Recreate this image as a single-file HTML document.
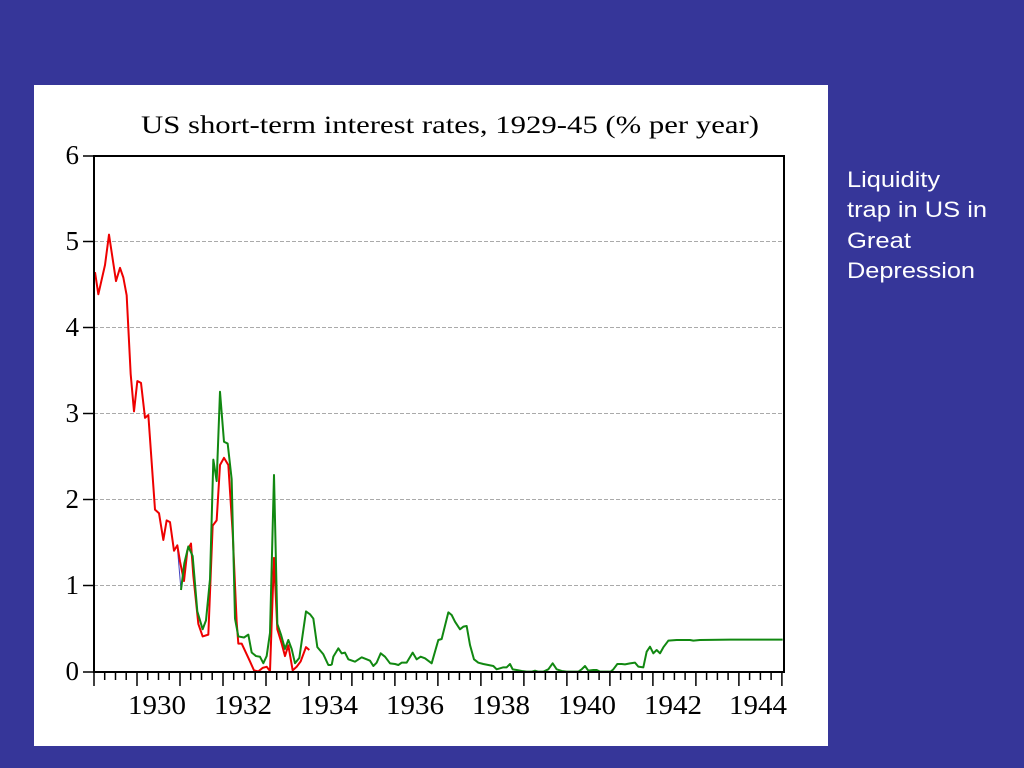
<!DOCTYPE html>
<html><head><meta charset="utf-8"><style>
html,body{margin:0;padding:0;width:1024px;height:768px;overflow:hidden;background:#363699;}
</style></head><body>
<svg width="1024" height="768" xmlns="http://www.w3.org/2000/svg" style="position:absolute;left:0;top:0">
<rect x="0" y="0" width="1024" height="768" fill="#363699"/>
<rect x="34" y="85" width="794" height="661" fill="#fff"/>
<text x="450" y="133" font-family="Liberation Serif, serif" font-size="25" text-anchor="middle" fill="#000" textLength="618" lengthAdjust="spacingAndGlyphs">US short-term interest rates, 1929-45 (% per year)</text>
<g stroke="#aaa" stroke-width="1" stroke-dasharray="4,2">
<line x1="94" y1="241.5" x2="784" y2="241.5"/>
<line x1="94" y1="327.5" x2="784" y2="327.5"/>
<line x1="94" y1="413.5" x2="784" y2="413.5"/>
<line x1="94" y1="499.5" x2="784" y2="499.5"/>
<line x1="94" y1="585.5" x2="784" y2="585.5"/>
</g>
<g stroke="#000" stroke-width="1.5">
<line x1="83" y1="156" x2="94" y2="156"/>
<line x1="83" y1="241.5" x2="94" y2="241.5"/>
<line x1="83" y1="327.5" x2="94" y2="327.5"/>
<line x1="83" y1="413.5" x2="94" y2="413.5"/>
<line x1="83" y1="499.5" x2="94" y2="499.5"/>
<line x1="83" y1="585.5" x2="94" y2="585.5"/>
<line x1="83" y1="672" x2="94" y2="672"/>
</g>
<g font-family="Liberation Serif, serif" font-size="27" text-anchor="end" fill="#000">
<text x="79" y="164">6</text><text x="79" y="250">5</text><text x="79" y="336">4</text>
<text x="79" y="422">3</text><text x="79" y="508">2</text><text x="79" y="594">1</text><text x="79" y="680">0</text>
</g>
<g id="ticks" stroke="#000" stroke-width="1.5"></g>
<g font-family="Liberation Serif, serif" font-size="27" text-anchor="middle" fill="#000">
<text x="157" y="714" textLength="58" lengthAdjust="spacingAndGlyphs">1930</text><text x="243" y="714" textLength="58" lengthAdjust="spacingAndGlyphs">1932</text><text x="329" y="714" textLength="58" lengthAdjust="spacingAndGlyphs">1934</text>
<text x="415" y="714" textLength="58" lengthAdjust="spacingAndGlyphs">1936</text><text x="501" y="714" textLength="58" lengthAdjust="spacingAndGlyphs">1938</text><text x="587" y="714" textLength="58" lengthAdjust="spacingAndGlyphs">1940</text>
<text x="673" y="714" textLength="58" lengthAdjust="spacingAndGlyphs">1942</text><text x="758" y="714" textLength="58" lengthAdjust="spacingAndGlyphs">1944</text>
</g>
<g transform="translate(80,140) scale(0.33333,0.35714)" fill="none" stroke-linejoin="round">
<polyline vector-effect="non-scaling-stroke" stroke="#4040c0" stroke-width="1" points="292,1140 303,1260"/>
<polyline vector-effect="non-scaling-stroke" stroke="#ee0000" stroke-width="2" points="45,370 55,432 75,350 87,265 108,395 120,358 130,385 140,435 152,655 162,760 172,675 183,680 195,778 205,770 225,1035 237,1045 250,1120 260,1065 270,1070 282,1150 292,1135 300,1180 312,1235 322,1150 333,1130 340,1220 355,1355 368,1390 385,1385 398,1080 410,1065 420,910 432,890 445,910 458,1100 470,1350 475,1410 485,1410 495,1430 510,1460 522,1485 535,1488 548,1478 560,1475 570,1487 582,1170 592,1370 605,1410 615,1445 625,1415 638,1485 650,1475 662,1460 678,1420 688,1428"/>
<polyline vector-effect="non-scaling-stroke" stroke="#118811" stroke-width="2" points="303,1260 313,1185 325,1138 338,1165 352,1320 368,1370 378,1345 390,1230 400,895 410,955 420,705 432,845 443,850 455,950 465,1340 475,1390 492,1393 505,1385 515,1435 528,1445 540,1447 550,1465 560,1445 570,1380 582,938 592,1355 603,1385 615,1425 625,1400 635,1425 645,1465 658,1450 678,1320 690,1328 700,1340 712,1420 730,1440 745,1470 755,1470"/>
</g>
<g transform="translate(330,560) scale(0.33333)" fill="none">
<polyline vector-effect="non-scaling-stroke" stroke="#118811" stroke-width="2" stroke-linejoin="round" points="5,315 10,290 25,265 35,280 45,278 55,298 75,305 95,292 110,298 120,302 130,318 140,308 152,280 165,290 180,310 195,312 205,315 215,308 230,308 248,278 260,298 272,290 285,295 305,310 325,240 335,237 355,157 365,165 375,185 390,208 400,200 410,198 420,255 432,298 445,308 460,312 475,315 490,318 500,328 510,325 520,322 530,322 540,312 548,328 560,330 575,333 590,335 605,335 615,332 625,335 640,335 655,328 668,310 680,328 695,333 710,335 730,335 745,335 755,328 765,318 775,332 790,330 800,330 810,335 830,335 842,335 850,328 862,312 875,312 885,313 900,310 915,308 925,320 940,322 950,275 960,260 970,280 980,270 990,280 1000,262 1015,242 1040,240 1080,240 1090,242 1110,240 1200,239 1358,239"/>
</g>
<rect x="94" y="156" width="690" height="516" fill="none" stroke="#000" stroke-width="2"/>
<g font-family="Liberation Sans, sans-serif" font-size="22" fill="#fff">
<text x="847" y="187" textLength="93" lengthAdjust="spacingAndGlyphs">Liquidity</text><text x="847" y="217" textLength="140" lengthAdjust="spacingAndGlyphs">trap in US in</text>
<text x="847" y="248" textLength="64" lengthAdjust="spacingAndGlyphs">Great</text><text x="847" y="278" textLength="128" lengthAdjust="spacingAndGlyphs">Depression</text>
</g>
</svg>
<script>
var g=document.getElementById('ticks');var s='';
for(var i=0;i<=64;i++){var x=94+i*690/64.2;var l=(i%4==0)?14:8;s+='<line x1="'+x.toFixed(1)+'" y1="672" x2="'+x.toFixed(1)+'" y2="'+(672+l)+'"/>';}
g.innerHTML=s;
</script>
</body></html>
